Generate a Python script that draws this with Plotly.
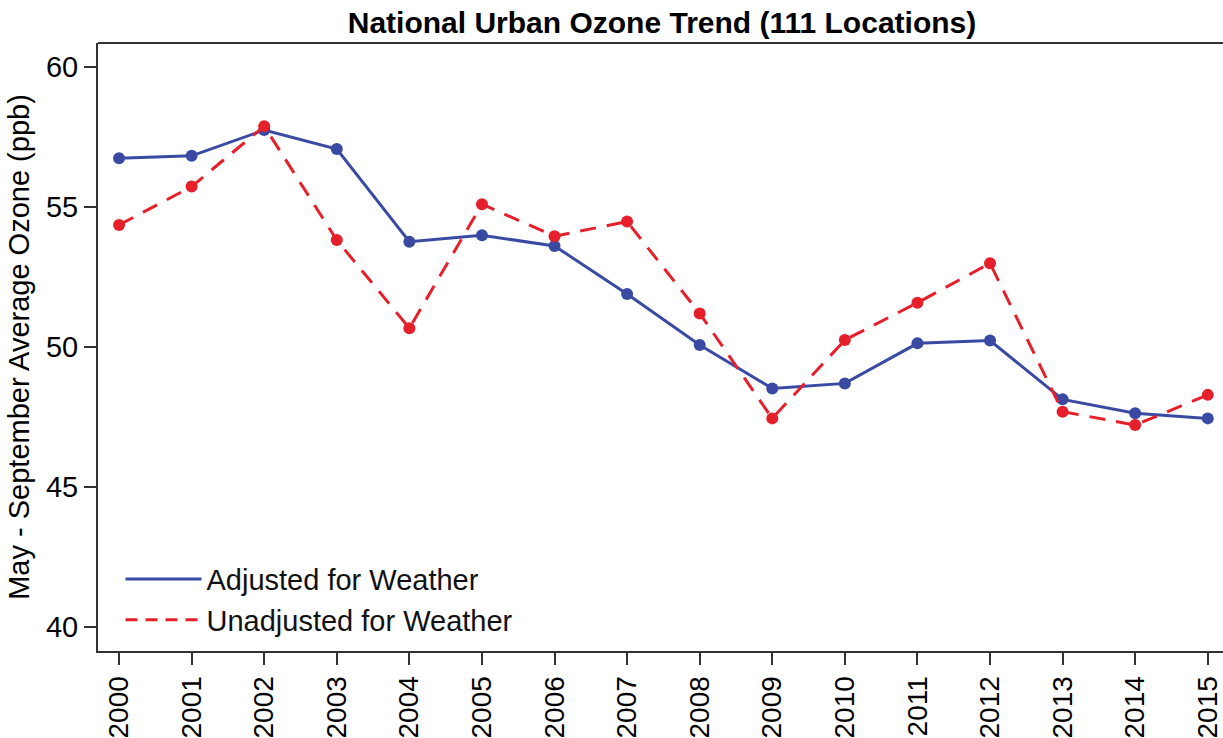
import plotly.graph_objects as go

years = list(range(2000, 2016))
adjusted = [56.74, 56.83, 57.75, 57.07, 53.76, 53.99, 53.61, 51.89, 50.07, 48.52,
            48.70, 50.13, 50.23, 48.13, 47.63, 47.45]
unadjusted = [54.36, 55.73, 57.89, 53.82, 50.67, 55.10, 53.96, 54.48, 51.20, 47.45,
              50.25, 51.58, 52.99, 47.69, 47.21, 48.29]
y_ticks = [40, 45, 50, 55, 60]

title_text = "National Urban Ozone Trend (111 Locations)"
y_title = "May - September Average Ozone (ppb)"
names = ["Adjusted for Weather", "Unadjusted for Weather"]

BLUE = "#3a4aa3"
RED = "#e6202a"
FONT = "Liberation Sans, Arial, sans-serif"
RED_DASH = "16px,11px"

fig = go.Figure()
fig.add_trace(go.Scatter(
    x=years, y=adjusted, name=names[0], mode="lines+markers", showlegend=False,
    line=dict(color=BLUE, width=3), marker=dict(color=BLUE, size=12),
))
fig.add_trace(go.Scatter(
    x=years, y=unadjusted, name=names[1], mode="lines+markers", showlegend=False,
    line=dict(color=RED, width=3, dash=RED_DASH), marker=dict(color=RED, size=12),
))
# legend entries (line only, like the reference)
fig.add_trace(go.Scatter(x=[None], y=[None], name=names[0], mode="lines",
                         line=dict(color=BLUE, width=3)))
fig.add_trace(go.Scatter(x=[None], y=[None], name=names[1], mode="lines",
                         line=dict(color=RED, width=3, dash="12px,8px")))

fig.update_layout(
    width=1223, height=738,
    margin=dict(l=98, r=0, t=43, b=87),
    paper_bgcolor="white", plot_bgcolor="white",
    font=dict(family=FONT, size=29, color="black"),
    title=dict(text="<b>" + title_text + "</b>", x=662 / 1223, xanchor="center",
               xref="container",
               y=1 - 22 / 738, yanchor="middle", font=dict(size=30, color="black")),
    showlegend=True,
    legend=dict(x=0.02, y=0.16, xanchor="left", yanchor="top",
                bgcolor="rgba(0,0,0,0)", font=dict(size=29, color="#111"),
                tracegroupgap=0, itemwidth=76),
    xaxis=dict(range=[1999.71, 2015.21], tickmode="array", tickvals=years,
               ticktext=[str(y) for y in years], tickangle=-90,
               showgrid=False, zeroline=False, showline=True, linecolor="#333",
               linewidth=2, ticks="outside", ticklen=12, tickwidth=2, tickcolor="#333",
               tickfont=dict(size=28, color="black")),
    yaxis=dict(range=[39.14, 60.86], tickmode="array", tickvals=y_ticks,
               showgrid=False, zeroline=False, showline=True, linecolor="#333",
               linewidth=2, ticks="outside", ticklen=12, tickwidth=2, tickcolor="#333",
               tickfont=dict(size=29, color="black"),
               title=dict(text=y_title, font=dict(size=29, color="black"), standoff=8)),
)
fig.add_shape(type="line", xref="paper", yref="paper", x0=0, x1=1, y0=1, y1=1,
              line=dict(color="#333", width=2))

fig.write_html("out.html", config={"displayModeBar": False},
               post_script="document.body.style.margin='0';document.body.style.overflow='hidden';")
